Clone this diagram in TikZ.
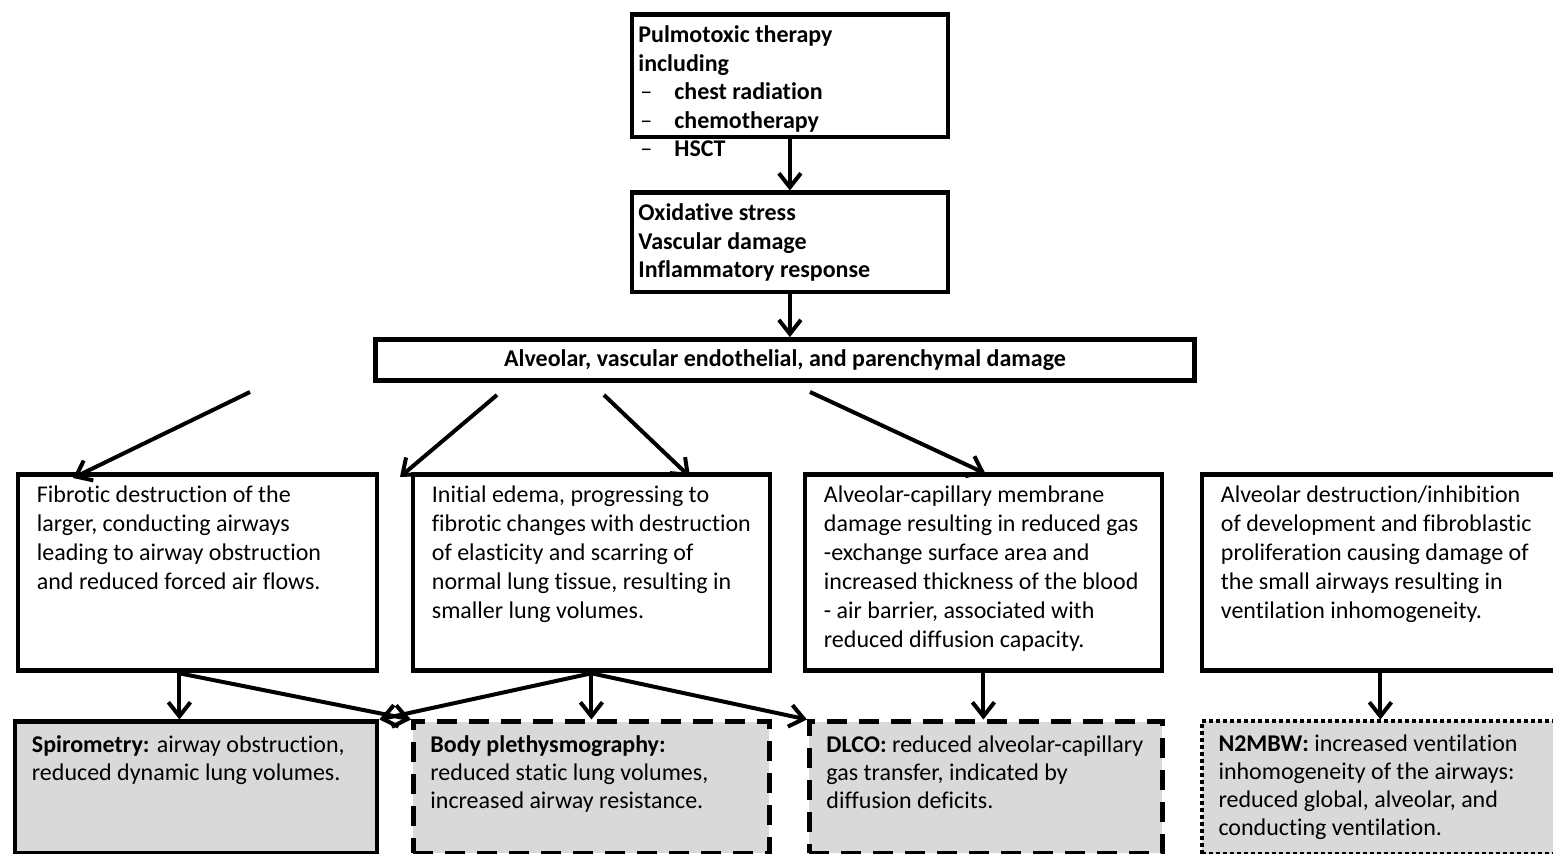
\documentclass[tikz,border=0pt]{standalone}
\usepackage{fontspec}
\setmainfont{Carlito}[Ligatures={NoCommon}]
\usetikzlibrary{arrows.meta,calc,positioning}
\definecolor{boxgray}{HTML}{D9D9D9}
\newcommand{\boxtext}[3]{\parbox[t][#2][t]{#1}{\strut#3}}

\begin{document}
\begin{tikzpicture}[x=0.5pt,y=-0.5pt,
  box/.style={draw,line width=2.4pt,anchor=north west,inner xsep=9.5pt,inner ysep=3.6pt,
    font=\fontsize{12}{14.5}\selectfont},
  head/.style={box,inner xsep=3.25pt,inner ysep=4.06pt,font=\bfseries\fontsize{12}{14.2}\selectfont},
  test/.style={box,fill=boxgray,inner xsep=8.5pt,inner ysep=5.3pt,font=\fontsize{12}{14}\selectfont},
  arr/.style={line width=2pt,-{Straight Barb[length=7pt,width=11pt]}},
]
  \useasboundingbox (0,0) rectangle (1553,854);

  % causes
  \node[head] (therapy) at (629.5,12.5) {\boxtext{151.5pt}{52.9pt}{Pulmotoxic therapy\\ including\\
    \makebox[18pt][l]{\hspace{1pt}\mdseries --}chest radiation\\
    \makebox[18pt][l]{\hspace{1pt}\mdseries --}chemotherapy\\
    \makebox[18pt][l]{\hspace{1pt}\mdseries --}HSCT}};
  \node[head] (stress) at (629.5,190.5) {\boxtext{151.5pt}{41.4pt}{Oxidative stress\\
    Vascular damage\\ Inflammatory response}};
  \node[box,anchor=center,minimum width=409.5pt,minimum height=20.5pt,inner sep=0pt,
    font=\bfseries\fontsize{12}{14.2}\selectfont] (damage) at (785,360)
    {Alveolar, vascular endothelial, and parenchymal damage};

  % effects
  \node[box] (fibro) at (15.5,472.5) {\boxtext{160.5pt}{90.8pt}{Fibrotic destruction of the\\
    larger, conducting airways\\ leading to airway obstruction\\ and reduced forced air flows.}};
  \node[box] (edema) at (410.5,472.5) {\boxtext{159.5pt}{90.8pt}{Initial edema, progressing to\\
    fibrotic changes with destruction\\ of elasticity and scarring of\\
    normal lung tissue, resulting in\\ smaller lung volumes.}};
  \node[box] (membr) at (802.5,472.5) {\boxtext{159.5pt}{90.8pt}{Alveolar-capillary membrane\\
    damage resulting in reduced gas\\ -exchange surface area and\\
    increased thickness of the blood\\ - air barrier, associated with\\
    reduced diffusion capacity.}};
  \node[box] (alvdes) at (1199.5,472.5) {\boxtext{159.5pt}{90.8pt}{Alveolar destruction/inhibition\\
    of development and fibroblastic\\ proliferation causing damage of\\
    the small airways resulting in\\ ventilation inhomogeneity.}};

  % lung function tests
  \node[test] (spiro) at (12.5,719.5) {\boxtext{164pt}{55.2pt}{\textbf{Spirometry:} airway obstruction,\\
    reduced dynamic lung volumes.}};
  \node[test,dash pattern=on 10pt off 6pt] (pleth) at (411,719.5) {\boxtext{161pt}{55.2pt}{\textbf{Body plethysmography:}\\
    reduced static lung volumes,\\ increased airway resistance.}};
  \node[test,dash pattern=on 10pt off 6pt] (dlco) at (807,719.5) {\boxtext{159.5pt}{55.2pt}{\textbf{DLCO:} reduced alveolar-capillary\\
    gas transfer, indicated by\\ diffusion deficits.}};
  \node[test,line width=2pt,dash pattern=on 2pt off 1.5pt] (nmbw) at (1199.5,719.5) {\boxtext{161pt}{55.6pt}{\textbf{N2MBW:} increased ventilation\\
    inhomogeneity of the airways:\\ reduced global, alveolar, and\\ conducting ventilation.}};

  \draw[arr] (therapy.south) -- (therapy.south |- stress.north);
  \draw[arr] (stress.south) -- (stress.south |- damage.north);

  \coordinate (f1) at (250,392);
  \coordinate (f2) at (497,395);
  \coordinate (f3) at (604,395);
  \coordinate (f4) at (810,392);
  \draw[arr] (f1) -- ($(fibro.north west)+(57.5,5.5)$);
  \draw[arr] (f2) -- ($(edema.north west)+(-10.5,4.5)$);
  \draw[arr] (f3) -- ($(edema.north west)+(279.5,4.5)$);
  \draw[arr] (f4) -- ($(membr.north)+(2,1)$);

  \coordinate (fout) at ($(fibro.south)+(-18,0)$);
  \draw[arr] (fout) -- (fout |- spiro.north);
  \draw[arr] (fout) -- (pleth.north west);
  \draw[arr] (edema.south) -- (spiro.north east);
  \draw[arr] (edema.south) -- (edema.south |- pleth.north);
  \draw[arr] (edema.south) -- (dlco.north west);
  \draw[arr] (membr.south) -- (membr.south |- dlco.north);
  \draw[arr] (alvdes.south) -- (alvdes.south |- nmbw.north);
\end{tikzpicture}
\end{document}
